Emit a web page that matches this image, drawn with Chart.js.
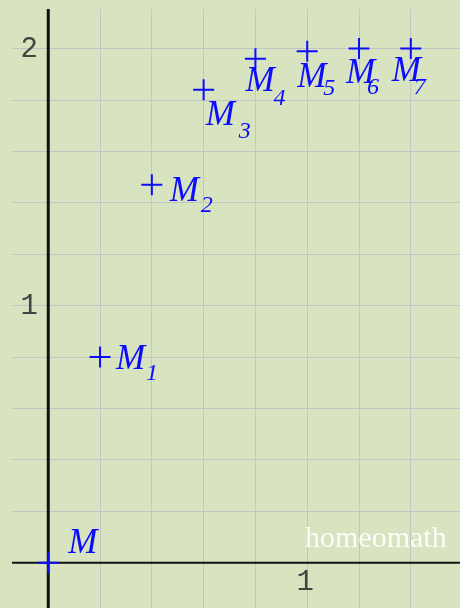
<!DOCTYPE html>
<html>
<head>
<meta charset="utf-8">
<script src="https://cdn.jsdelivr.net/npm/chart.js@4/dist/chart.umd.min.js"></script>
<style>
  html, body { margin: 0; padding: 0; background: #d8e3bf; }
  #wrap { width: 460px; height: 608px; position: relative; }
</style>
</head>
<body>
<div id="wrap"><canvas id="chart"></canvas></div>
<script>
// points M, M1 ... M7 (step 0.2 on x)
const pointNames = ["M", "M1", "M2", "M3", "M4", "M5", "M6", "M7"];
const xValues = [0, 0.2, 0.4, 0.6, 0.8, 1.0, 1.2, 1.4];
const yValues = [0, 0.8, 1.47, 1.84, 1.96, 1.99, 2.0, 2.0];
const xTickLabels = ["1"];
const yTickLabels = ["1", "2"];

// where each name sits around its cross: [letter dx, dy, index dx, dy]
const nameOffsets = [
    [20, -10, 0, 0],
    [16, 12, 46, 23],
    [18, 16, 49, 27],
    [2, 35, 35, 48],
    [-10, 32, 18, 46],
    [-10, 36, 16, 44],
    [-13, 34, 8, 45],
    [-19, 32, 3, 45],
];

const points = [];
for (let i = 0; i < xValues.length; i++) {
    points.push({ x: xValues[i], y: yValues[i] });
}

const blue = "#0c0cff";

// black axes through the origin, drawn under the crosses
const axesPlugin = {
    id: "axes",
    beforeDatasetsDraw(chart) {
        const ctx = chart.ctx;
        const xs = chart.scales.x, ys = chart.scales.y;
        const ca = chart.chartArea;
        const x0 = xs.getPixelForValue(0);
        const y0 = ys.getPixelForValue(0);
        ctx.save();
        ctx.strokeStyle = "#111";
        ctx.lineWidth = 2;
        ctx.beginPath();
        ctx.moveTo(ca.left, y0);
        ctx.lineTo(ca.right, y0);
        ctx.stroke();
        ctx.lineWidth = 3;
        ctx.beginPath();
        ctx.moveTo(x0, ca.top);
        ctx.lineTo(x0, ca.bottom);
        ctx.stroke();

        ctx.fillStyle = "#444";
        ctx.font = "29px 'Liberation Mono'";
        ctx.textAlign = "center";
        ctx.textBaseline = "middle";
        for (const t of yTickLabels) {
            ctx.fillText(t, x0 - 19, ys.getPixelForValue(Number(t)) + 1);
        }
        for (const t of xTickLabels) {
            ctx.fillText(t, xs.getPixelForValue(Number(t)) - 2, y0 + 20);
        }

        ctx.fillStyle = "rgba(255,255,255,0.92)";
        ctx.font = "30px 'Liberation Serif'";
        ctx.textAlign = "left";
        ctx.textBaseline = "alphabetic";
        ctx.fillText("homeomath", 305, 547);
        ctx.restore();
    },
};

// italic names with their index set lower
const namesPlugin = {
    id: "names",
    afterDatasetsDraw(chart) {
        const ctx = chart.ctx;
        const meta = chart.getDatasetMeta(0);
        ctx.save();
        ctx.fillStyle = blue;
        ctx.textAlign = "left";
        ctx.textBaseline = "alphabetic";
        meta.data.forEach((pt, i) => {
            const name = pointNames[i];
            const off = nameOffsets[i];
            ctx.font = "italic 35px 'Liberation Serif'";
            ctx.fillText(name.charAt(0), pt.x + off[0], pt.y + off[1]);
            if (name.length > 1) {
                ctx.font = "italic 24px 'Liberation Serif'";
                ctx.fillText(name.slice(1), pt.x + off[2], pt.y + off[3]);
            }
        });
        ctx.restore();
    },
};

// scales take no room: the grid fills the whole canvas
function noRoom(scale) {
    if (scale.isHorizontal()) scale.height = 0;
    else scale.width = 0;
    scale.paddingLeft = 0;
    scale.paddingRight = 0;
    scale.paddingTop = 0;
    scale.paddingBottom = 0;
}

const ctx = document.getElementById("chart");

new Chart(ctx, {
    type: "scatter",
    data: {
        datasets: [
            {
                data: points,
                pointStyle: "cross",
                pointRadius: 10.5,
                pointHoverRadius: 10.5,
                borderWidth: 2,
                borderColor: blue,
                backgroundColor: blue,
            },
        ],
    },
    options: {
        responsive: true,
        maintainAspectRatio: false,
        animation: false,
        layout: { autoPadding: false, padding: { left: 12, top: 9, right: 0, bottom: 0 } },
        plugins: {
            legend: { display: false },
            tooltip: { enabled: false },
        },
        scales: {
            x: {
                type: "linear",
                min: -0.14,
                max: 1.59,
                afterFit: noRoom,
                border: { display: false },
                grid: { color: "#c4c4c4", lineWidth: 1, drawTicks: false, tickLength: 0 },
                ticks: { display: false, stepSize: 0.2, includeBounds: false, padding: 0 },
            },
            y: {
                type: "linear",
                min: -0.176,
                max: 2.154,
                afterFit: noRoom,
                border: { display: false },
                grid: { color: "#c4c4c4", lineWidth: 1, drawTicks: false, tickLength: 0 },
                ticks: { display: false, stepSize: 0.2, includeBounds: false, padding: 0 },
            },
        },
    },
    plugins: [axesPlugin, namesPlugin],
});
</script>
</body>
</html>
